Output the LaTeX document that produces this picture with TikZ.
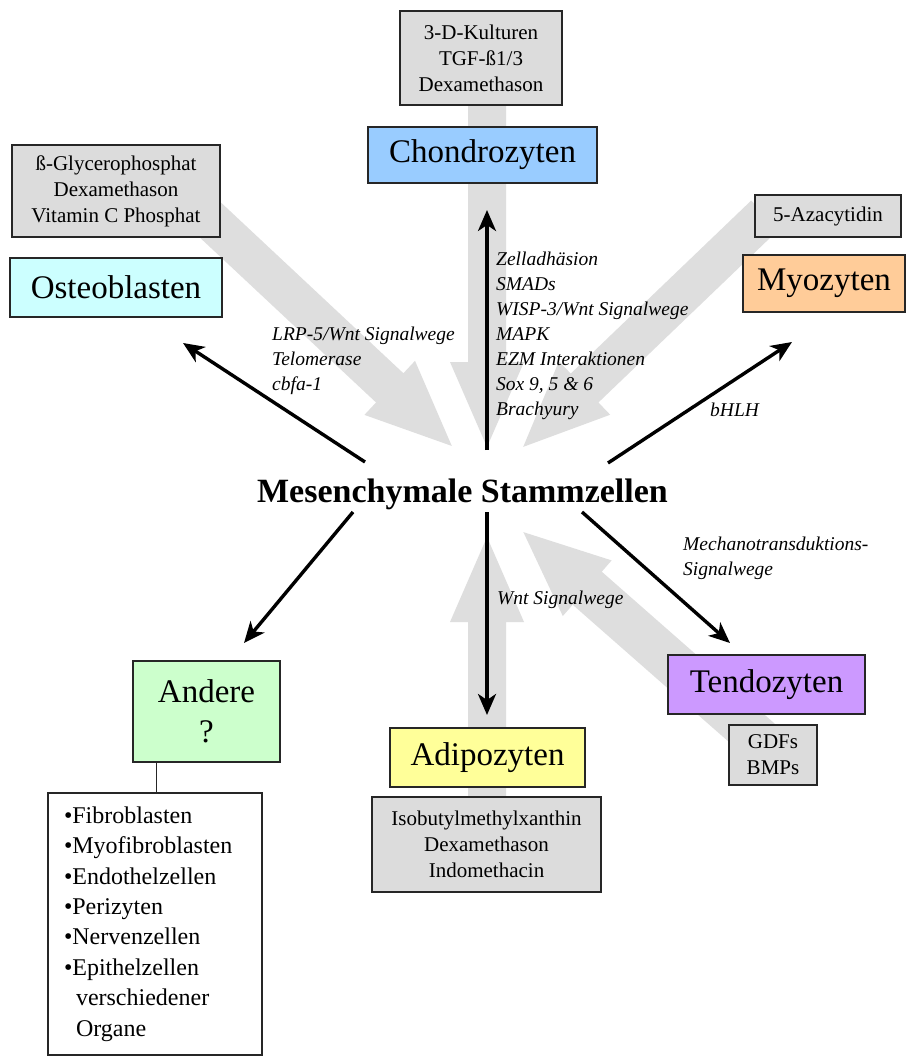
\documentclass[tikz,border=0pt]{standalone}
\usepackage{fontspec}
\setmainfont{Liberation Serif}
\usetikzlibrary{arrows.meta}
\definecolor{graya}{HTML}{DEDEDE}
\definecolor{grayb}{HTML}{DCDCDC}
\definecolor{chondroc}{HTML}{99CCFF}
\definecolor{osteoc}{HTML}{CCFFFF}
\definecolor{myoc}{HTML}{FFCC99}
\definecolor{anderec}{HTML}{CCFFCC}
\definecolor{adipoc}{HTML}{FFFF99}
\definecolor{tendoc}{HTML}{CC99FF}
\newcommand\fatshape[2]{\fill[graya] (0,-#2) -- (#1-85,-#2) -- (#1-85,-37) -- (#1,0) -- (#1-85,37) -- (#1-85,#2) -- (0,#2) -- cycle;}
\begin{document}
\begin{tikzpicture}[x=1pt,y=-1pt,
  box/.style={draw=black!85, line width=1.4pt, inner sep=0pt, align=center},
  cellbox/.style={box, font=\fontsize{33}{40}\selectfont},
  agentbox/.style={box, fill=grayb, font=\fontsize{21}{26}\selectfont},
  lbl/.style={font=\fontsize{19.5}{25}\selectfont\itshape, align=left, anchor=west, inner sep=0pt},
  conn/.style={line width=3.4pt, -{Stealth[length=21pt,width=18pt,inset=6pt]}}
]
\useasboundingbox (0,0) rectangle (907,1057);
\fill[white] (0,0) rectangle (907,1057);

% gray wide arrows (stimulating agents)
\begin{scope}[shift={(487,105)},rotate=-90]\fatshape{342}{19}\end{scope}
\begin{scope}[shift={(487,800)},rotate=90]\fatshape{263}{19}\end{scope}
\begin{scope}[shift={(205,215)},rotate=-43.1]\fatshape{338}{20}\end{scope}
\begin{scope}[shift={(765,215)},rotate=-136.2]\fatshape{335}{20}\end{scope}
\begin{scope}[shift={(760,740)},rotate=138.7]\fatshape{315}{22}\end{scope}

% agent boxes
\node[agentbox, minimum width=162pt, minimum height=94pt] (kult) at (481,58) {3-D-Kulturen\\TGF-ß1/3\\Dexamethason};
\node[agentbox, minimum width=208pt, minimum height=92pt] (glyc) at (116,191) {ß-Glycerophosphat\\Dexamethason\\Vitamin C Phosphat};
\node[agentbox, minimum width=146pt, minimum height=42pt] (aza) at (828,216) {5-Azacytidin};
\node[agentbox, minimum width=229pt, minimum height=95pt] (iso) at (486.5,844.5) {Isobutylmethylxanthin\\Dexamethason\\Indomethacin};
\node[agentbox, minimum width=88pt, minimum height=60pt] (gdf) at (773,755) {GDFs\\BMPs};

% cell type boxes
\node[cellbox, fill=chondroc, minimum width=229pt, minimum height=56pt] (chondro) at (482.5,155) {Chondrozyten};
\node[cellbox, fill=osteoc, minimum width=212pt, minimum height=59pt] (osteo) at (116,287.5) {Osteoblasten};
\node[cellbox, fill=myoc, minimum width=162pt, minimum height=57pt] (myo) at (824,283.5) {Myozyten};
\node[cellbox, fill=anderec, minimum width=147pt, minimum height=101pt] (andere) at (206.5,711.5) {Andere\\?};
\node[cellbox, fill=adipoc, minimum width=195pt, minimum height=59pt] (adipo) at (487.5,757.5) {Adipozyten};
\node[cellbox, fill=tendoc, minimum width=197pt, minimum height=59pt] (tendo) at (766.5,684.5) {Tendozyten};

\node[box, align=left, text width=182pt, inner xsep=16pt, minimum height=262pt,
      font=\fontsize{24}{30.4}\selectfont] (list) at (155,924)
  {•Fibroblasten\\•Myofibroblasten\\•Endothelzellen\\•Perizyten\\•Nervenzellen\\•Epithelzellen\\\hspace*{12pt}verschiedener\\\hspace*{12pt}Organe};
\draw[line width=1.2pt, draw=black!85] ([xshift=24pt]andere.south west) -- ([xshift=24pt]andere.south west |- list.north);

% centre
\node[font=\fontsize{34}{40}\selectfont\bfseries, inner sep=0pt, anchor=base] (msc) at (462.5,502) {Mesenchymale Stammzellen};

% differentiation arrows
\coordinate (upS) at (487,450);   \coordinate (upE) at (487,210);
\coordinate (osS) at (365,462);   \coordinate (osE) at (183,343);
\coordinate (myS) at (608,463);   \coordinate (myE) at (792,342);
\coordinate (anS) at (353,512);   \coordinate (anE) at (244,643);
\coordinate (adS) at (487,512);   \coordinate (adE) at (487,715);
\coordinate (teS) at (582,512);   \coordinate (teE) at (730,643);
\draw[conn] (upS) -- (upE);
\draw[conn] (osS) -- (osE);
\draw[conn] (myS) -- (myE);
\draw[conn] (anS) -- (anE);
\draw[conn] (adS) -- (adE);
\draw[conn] (teS) -- (teE);

% labels
\node[lbl] (osl) at (272,361) {LRP-5/Wnt Signalwege\\Telomerase\\cbfa-1};
\node[lbl] (chl) at (496,336) {Zelladhäsion\\SMADs\\WISP-3/Wnt Signalwege\\MAPK\\EZM Interaktionen\\Sox 9, 5 \& 6\\Brachyury};
\node[lbl] (myl) at (710,410) {bHLH};
\node[lbl] (tel) at (683,558) {Mechanotransduktions-\\Signalwege};
\node[lbl] (adl) at (497,600) {Wnt Signalwege};
\end{tikzpicture}
\end{document}
